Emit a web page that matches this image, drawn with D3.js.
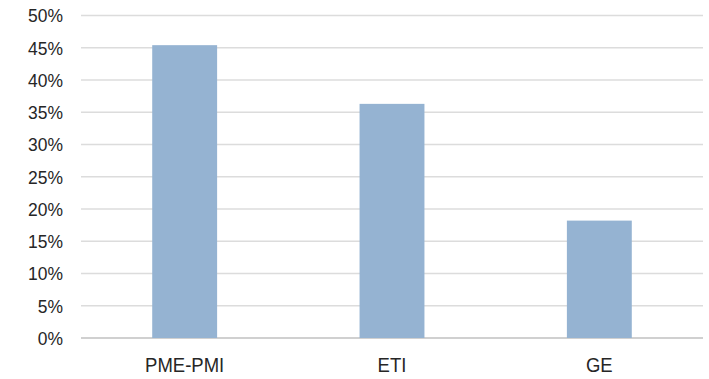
<!DOCTYPE html>
<html><head><meta charset="utf-8">
<script src="https://cdn.jsdelivr.net/npm/d3@7"></script>
<style>
html,body{margin:0;padding:0;background:#fff;}
text{font-family:"Liberation Sans Narrow","Arial Narrow","Liberation Sans",Arial,sans-serif;fill:#262626;}
</style></head>
<body><svg id="c" width="709" height="379"></svg>
<script>
const categories = ["PME-PMI", "ETI", "GE"];
const values = [0.454, 0.363, 0.182];
const yTicks = [0, 0.05, 0.10, 0.15, 0.20, 0.25, 0.30, 0.35, 0.40, 0.45, 0.50];

const svg = d3.select("#c");
const pLeft = 81, pRight = 703, pTop = 15.5, pBottom = 338;
const x = d3.scaleBand().domain(categories).range([pLeft, pRight]).paddingInner(0.687).paddingOuter(0.3435);
const y = d3.scaleLinear().domain([0, 0.5]).range([pBottom, pTop]);

// gridlines
svg.append("g").selectAll("line").data(yTicks).join("line")
  .attr("x1", pLeft).attr("x2", pRight)
  .attr("y1", d => y(d)).attr("y2", d => y(d))
  .attr("stroke", d => d === 0 ? "#d0d0d0" : "#dcdcdc")
  .attr("stroke-width", d => d === 0 ? 2 : 1.5);

// bars
svg.append("g").selectAll("rect").data(values).join("rect")
  .attr("x", (d, i) => x(categories[i]))
  .attr("width", x.bandwidth())
  .attr("y", d => y(d))
  .attr("height", d => y(0) - y(d))
  .attr("fill", "#95b3d2");

// y labels
const fmt = d3.format(".0%");
svg.append("g").selectAll("text").data(yTicks).join("text")
  .attr("x", 63).attr("y", d => y(d))
  .attr("dy", "0.36em")
  .attr("text-anchor", "end")
  .style("font-size", "19px")
  .attr("transform", d => `translate(63,${y(d)}) scale(0.92,1) translate(-63,${-y(d)})`)
  .text(d => fmt(d));

// x labels
svg.append("g").selectAll("text").data(categories).join("text")
  .attr("x", d => x(d) + x.bandwidth() / 2)
  .attr("y", 372)
  .attr("text-anchor", "middle")
  .style("font-size", "19.5px")
  .attr("transform", d => { const cx = x(d) + x.bandwidth() / 2; return `translate(${cx},0) scale(0.95,1) translate(${-cx},0)`; })
  .text(d => d);
</script>
</body></html>
